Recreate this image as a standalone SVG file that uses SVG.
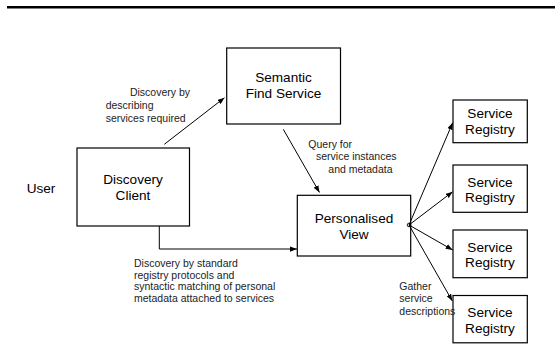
<svg xmlns="http://www.w3.org/2000/svg" width="555" height="345" viewBox="0 0 555 345">
  <style>
    .box { fill: #ffffff; stroke: #000000; stroke-width: 1.2; }
    .node-text { font-family: "Liberation Sans", Arial, sans-serif; font-size: 13.6px; fill: #000000; text-anchor: middle; }
    .label { font-family: "Liberation Sans", Arial, sans-serif; font-size: 10.5px; fill: #222222; }
    .edge { fill: none; stroke: #000000; stroke-width: 1; }
  </style>
  <defs>
    <marker id="arrow" viewBox="0 0 8 6" refX="8" refY="3" markerWidth="7" markerHeight="5.5" markerUnits="userSpaceOnUse" orient="auto">
      <path d="M0,0 L8,3 L0,6 Z" fill="#000000"/>
    </marker>
  </defs>

  <rect width="555" height="345" fill="#ffffff"/>

  <!-- header rule -->
  <line x1="7" y1="7.3" x2="555" y2="7.3" stroke="#000000" stroke-width="2.6"/>

  <!-- actor -->
  <g id="user">
    <text class="node-text" x="41" y="193" font-size="12.5px">User</text>
  </g>

  <g id="discovery-client">
    <rect class="box" x="77" y="148" width="112.5" height="78"/>
    <text class="node-text" x="133" y="184">Discovery</text>
    <text class="node-text" x="133" y="200">Client</text>
  </g>

  <g id="semantic-find-service">
    <rect class="box" x="226.7" y="48" width="113.8" height="76"/>
    <text class="node-text" x="283.5" y="82">Semantic</text>
    <text class="node-text" x="283.5" y="98">Find Service</text>
  </g>

  <g id="personalised-view">
    <rect class="box" x="297.3" y="195.3" width="113.4" height="60.7"/>
    <text class="node-text" x="354" y="223">Personalised</text>
    <text class="node-text" x="354" y="239">View</text>
  </g>

  <g id="service-registry-1">
    <rect class="box" x="453" y="100" width="74.3" height="42.7"/>
    <text class="node-text" x="490" y="118">Service</text>
    <text class="node-text" x="490" y="134">Registry</text>
  </g>
  <g id="service-registry-2">
    <rect class="box" x="453" y="165" width="74.3" height="47.3"/>
    <text class="node-text" x="490" y="186.5">Service</text>
    <text class="node-text" x="490" y="202">Registry</text>
  </g>
  <g id="service-registry-3">
    <rect class="box" x="453" y="230" width="74.3" height="47.7"/>
    <text class="node-text" x="490" y="251.5">Service</text>
    <text class="node-text" x="490" y="267">Registry</text>
  </g>
  <g id="service-registry-4">
    <rect class="box" x="453" y="295.5" width="74.3" height="47.3"/>
    <text class="node-text" x="490" y="317">Service</text>
    <text class="node-text" x="490" y="332.5">Registry</text>
  </g>

  <g id="connectors">
    <line class="edge" x1="164.3" y1="144.3" x2="224.5" y2="97.7" marker-end="url(#arrow)"/>
    <line class="edge" x1="283.3" y1="129.3" x2="319.5" y2="192.5" marker-end="url(#arrow)"/>
    <path class="edge" d="M159.3,226 V249 H297" marker-end="url(#arrow)"/>
    <circle cx="409" cy="225" r="1.8" fill="none" stroke="#000000" stroke-width="0.9"/>
    <line class="edge" x1="409" y1="225" x2="452.7" y2="122.7" marker-end="url(#arrow)"/>
    <line class="edge" x1="409" y1="225" x2="452.7" y2="191.7" marker-end="url(#arrow)"/>
    <line class="edge" x1="409" y1="225" x2="452.7" y2="250" marker-end="url(#arrow)"/>
    <line class="edge" x1="409" y1="225" x2="452.3" y2="301" marker-end="url(#arrow)"/>
  </g>

  <g id="labels">
    <text class="label" x="190" y="95.7" text-anchor="end">Discovery by</text>
    <text class="label" x="105.7" y="109.4">describing</text>
    <text class="label" x="105.7" y="121.7">services required</text>

    <text class="label" x="308.3" y="147.7">Query for</text>
    <text class="label" x="316" y="159.7">service instances</text>
    <text class="label" x="328.3" y="172.7">and metadata</text>

    <text class="label" x="134" y="267">Discovery by standard</text>
    <text class="label" x="134" y="278.7">registry protocols and</text>
    <text class="label" x="134" y="290.4">syntactic matching of personal</text>
    <text class="label" x="134" y="302">metadata attached to services</text>

    <text class="label" x="399.3" y="289.7">Gather</text>
    <text class="label" x="399.3" y="302">service</text>
    <text class="label" x="399.3" y="315.4">descriptions</text>
  </g>
</svg>
